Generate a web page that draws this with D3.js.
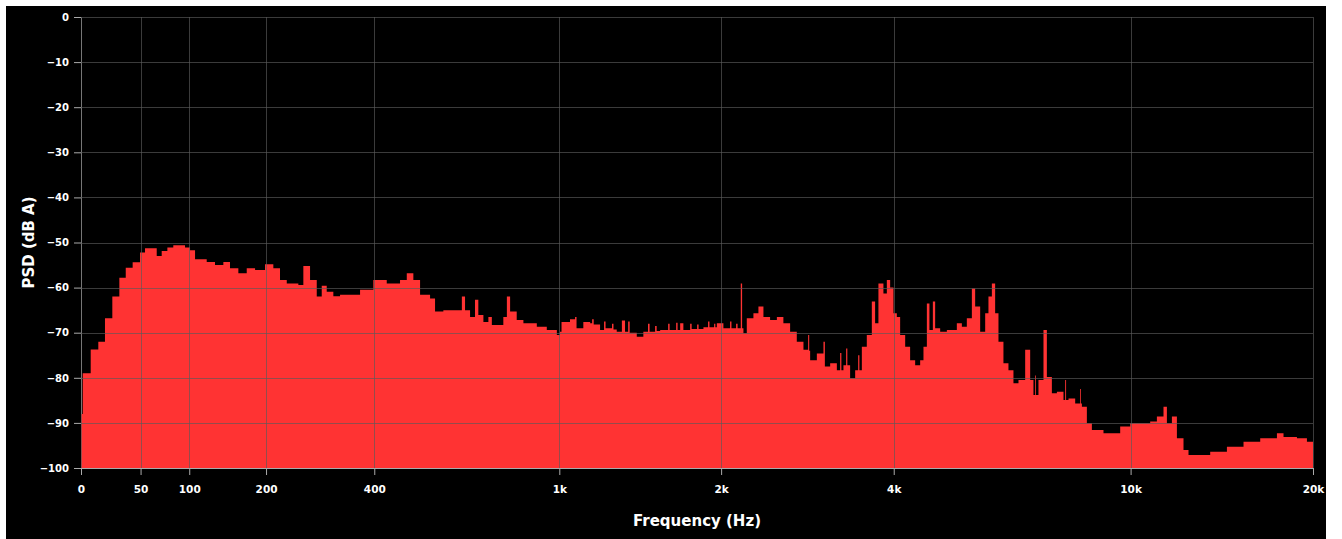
<!DOCTYPE html>
<html>
<head>
<meta charset="utf-8">
<style>
  body { margin: 0; background: #fff; }
  .axis text { fill: #fff; font: bold 10px "DejaVu Sans", sans-serif; }
  .axis--x text { font-size: 10.5px; }
  .axis path, .axis line { stroke: #aaa; }
  .grid line { stroke: #5a5a5a; stroke-opacity: 0.65; shape-rendering: crispEdges; }
  .grid path { stroke: none; }
  .title { fill: #fff; font: bold 15px "DejaVu Sans", sans-serif; }
</style>
</head>
<body>
<svg width="1342" height="539"></svg>
<script src="https://cdnjs.cloudflare.com/ajax/libs/d3/7.8.5/d3.min.js"></script>
<script>
// spectrum: start frequency of each step (Hz) and its level (dB A)
var freqs = [
  // 0 - 580 Hz
  0, 1.3, 7.4, 13.4, 18.8, 24.9, 30.9, 36.5, 42.7, 49.5,
  54.2, 65.6, 70.6, 76.4, 82.6, 95.3, 100.9, 106.6, 120.3, 130.4,
  140.9, 149.5, 160.6, 172.1, 183.9, 198.5, 211.1, 221.5, 232.3, 251.5,
  260, 271.7, 283.7, 292.8, 302.1, 314.7, 327.8, 368.9, 397.9, 428.7,
  460.8, 477.7, 494.6, 512.3, 539.5, 553.4, 577.2,
  // 600 Hz - 1 kHz
  597, 633, 643, 659, 675, 686, 703, 720, 732, 773,
  786, 798, 823, 849, 903, 945, 989,
  // 1 - 2.2 kHz
  1003, 1010, 1049, 1073, 1080, 1113, 1147, 1157, 1165, 1198,
  1219, 1227, 1234, 1262, 1270, 1288, 1317, 1335, 1353, 1362,
  1404, 1444, 1473, 1483, 1518, 1528, 1551, 1604, 1614, 1659,
  1669, 1687, 1710, 1759, 1770, 1811, 1822, 1859, 1895, 1906,
  1943, 1953, 1965, 2019, 2075, 2087, 2127, 2140, 2168, 2180,
  // 2.2 - 3.6 kHz
  2192, 2222, 2283, 2330, 2378, 2443, 2511, 2578, 2649, 2721,
  2795, 2848, 2860, 2871, 2949, 3028, 3045, 3110, 3194, 3236,
  3252, 3279, 3314, 3330, 3367, 3435, 3476, 3493, 3527, 3597,
  // 3.6 - 6 kHz
  3669, 3717, 3766, 3841, 3893, 3944, 3996, 4049, 4102, 4184,
  4266, 4351, 4437, 4495, 4555, 4601, 4663, 4705, 4798, 4925,
  5120, 5221, 5323, 5428, 5498, 5606, 5716, 5789, 5866, 5941,
  // 6 - 10 kHz
  6018, 6135, 6255, 6377, 6502, 6672, 6802, 6889, 6934, 6955,
  7023, 7160, 7254, 7395, 7539, 7733, 7783, 7810, 7883, 8088,
  8245, 8270, 8299, 8459, 8623, 9015, 9610, 9985,
  // 10 - 20 kHz
  10777, 11056, 11338, 11486, 11707, 11932, 12236, 12471, 13544, 14432,
  15371, 16376, 17447, 17888, 18820, 19546, 20000
];

var psd = [
  -88, -79, -73.7, -72, -66.8, -62, -57.8, -55.6, -54.4, -52.2,
  -51.3, -53, -51.9, -51.1, -50.6, -51.1, -51.7, -53.7, -54.3, -55,
  -54.3, -55.7, -56.8, -55.7, -56.1, -54.8, -55.7, -58.3, -59.1, -59.4,
  -55.2, -58.3, -62, -59.6, -60.9, -61.9, -61.6, -60.5, -58.3, -59.1,
  -58.3, -56.8, -58.3, -61.6, -62.4, -65.3, -65,
  -65, -62, -65, -66.5, -62.7, -66.1, -67.6, -66.5, -68.3, -66.5,
  -62, -65.3, -67.2, -67.9, -68.7, -69.4, -70.5,
  -69.8, -67.6, -67, -66.5, -69, -67.6, -67.9, -67, -68.2, -69.4,
  -67.5, -69, -69, -68, -69.3, -69.8, -67.3, -69.8, -67.5, -70,
  -70.9, -69.8, -68, -69.8, -68.5, -69.6, -69.4, -68, -69.4, -67.8,
  -69.4, -67.9, -69.4, -68, -69.2, -68.2, -69.2, -68.8, -67.5, -68.8,
  -68, -68.8, -67.9, -69, -67.5, -69, -68, -69, -59.1, -69,
  -70.1, -66.8, -65.7, -64.2, -66.5, -67.2, -66.5, -67.9, -69.8, -72,
  -73.8, -70.5, -74, -76.1, -74.6, -72, -77.5, -76.8, -78.3, -74.5,
  -78.3, -77.2, -73.5, -77.2, -80.1, -78.3, -75, -78.3, -73.1, -70.5,
  -63.1, -67.9, -59.1, -61.3, -58.3, -60, -65.7, -66.5, -70.5, -73.1,
  -76.1, -77.2, -76.1, -73.1, -63.5, -69.4, -63.1, -69, -69.8, -69.4,
  -67.9, -68.7, -66.8, -60.2, -64.2, -69.8, -65.7, -62, -59.1, -65.7,
  -72, -76.8, -78.3, -81.2, -80.5, -73.8, -80.5, -83.8, -79.5, -83.8,
  -80.5, -69.4, -79.8, -83.4, -83.1, -84.9, -80.5, -84.9, -84.6, -85.7,
  -82.5, -85.7, -86.4, -90.1, -91.6, -92.3, -90.8, -90.1,
  -89.7, -88.6, -86.4, -90.1, -88.6, -93.4, -96, -97.1, -96.4, -95.3,
  -94.2, -93.4, -92.3, -93.1, -93.4, -94.2, -94.2
];

var xTicks = [0, 50, 100, 200, 400, 1000, 2000, 4000, 10000, 20000],
    xTickLabels = ["0", "50", "100", "200", "400", "1k", "2k", "4k", "10k", "20k"],
    yTicks = [0, -10, -20, -30, -40, -50, -60, -70, -80, -90, -100];

var svg = d3.select("svg"),
    margin = { top: 17, right: 29, bottom: 71, left: 81 },
    width = svg.attr("width") - margin.left - margin.right,
    height = svg.attr("height") - margin.top - margin.bottom;

// black panel
svg.append("rect")
    .attr("x", 6)
    .attr("y", 6)
    .attr("width", 1320)
    .attr("height", 540)
    .attr("fill", "#000");

var g = svg.append("g").attr("transform", "translate(" + margin.left + "," + margin.top + ")");

// frequency axis is log(1 + f/200)
var x = d3.scaleSymlog().constant(200).domain([0, 20000]).range([0, width]),
    y = d3.scaleLinear().domain([-100, 0]).range([height, 0]);

var data = freqs.map(function (f, i) {
    return { freq: f, psd: psd[i] };
});

var area = d3.area()
    .curve(d3.curveStepAfter)
    .x(function (d) { return x(d.freq); })
    .y0(height)
    .y1(function (d) { return y(d.psd); });

// axes
g.append("g")
    .attr("class", "axis axis--x")
    .attr("transform", "translate(0," + height + ")")
    .call(d3.axisBottom(x)
        .tickValues(xTicks)
        .tickSize(7)
        .tickPadding(11)
        .tickFormat(function (d, i) { return xTickLabels[i]; }));

g.append("g")
    .attr("class", "axis axis--y")
    .call(d3.axisLeft(y)
        .tickValues(yTicks)
        .tickSize(7)
        .tickPadding(5));

g.append("path")
    .datum(data)
    .attr("fill", "#ff3333")
    .attr("d", area);

// grid on top of the spectrum
g.append("g")
    .attr("class", "grid")
    .call(d3.axisBottom(x)
        .tickValues(xTicks)
        .tickSize(height)
        .tickFormat(""));

g.append("g")
    .attr("class", "grid")
    .call(d3.axisLeft(y)
        .tickValues(yTicks)
        .tickSize(-width)
        .tickFormat(""));

// redraw baseline
g.append("line")
    .attr("x1", 0)
    .attr("x2", width)
    .attr("y1", height + 0.5)
    .attr("y2", height + 0.5)
    .attr("stroke", "#aaa");

svg.append("text")
    .attr("class", "title")
    .attr("transform", "translate(" + (margin.left + width / 2) + "," + (height + margin.top + 58) + ")")
    .style("text-anchor", "middle")
    .text("Frequency (Hz)");

svg.append("text")
    .attr("class", "title")
    .attr("transform", "translate(34," + (margin.top + height / 2) + ")rotate(-90)")
    .style("text-anchor", "middle")
    .text("PSD (dB A)");
</script>
</body>
</html>
